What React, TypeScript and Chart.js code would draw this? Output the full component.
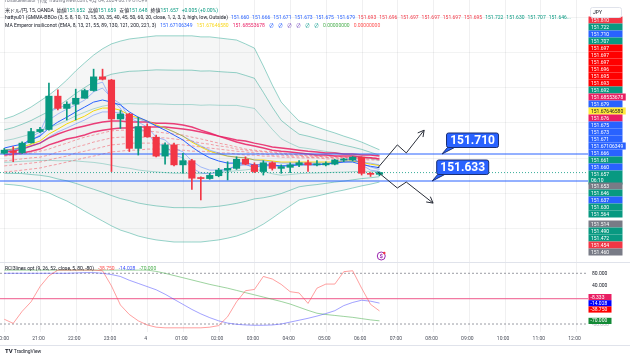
import React, { useEffect, useRef } from "react";
import { Chart, registerables } from "chart.js";

Chart.register(...registerables);

// ---------------- data ----------------
const candleOpen = [151.712,151.719,151.714,151.742,151.774,151.780,151.875,151.840,151.852,151.869,151.891,151.930,151.921,151.810,151.824,151.726,151.788,151.758,151.704,151.736,151.679,151.691,151.642,151.640,151.648,151.664,151.669,151.695,151.679,151.660,151.685,151.669,151.672,151.679,151.685,151.679,151.679,151.681,151.693,151.693,151.701,151.655,151.652];
const candleHigh = [151.726,151.731,151.745,151.783,151.786,151.912,151.893,151.859,151.895,151.895,151.952,151.952,151.923,151.834,151.826,151.815,151.796,151.764,151.742,151.741,151.712,151.695,151.645,151.655,151.669,151.688,151.702,151.702,151.685,151.691,151.688,151.679,151.685,151.691,151.693,151.691,151.688,151.695,151.698,151.703,151.702,151.657,151.659];
const candleLow = [151.710,151.688,151.712,151.741,151.771,151.778,151.836,151.807,151.807,151.869,151.889,151.921,151.660,151.783,151.717,151.707,151.758,151.702,151.681,151.676,151.655,151.609,151.579,151.638,151.645,151.636,151.666,151.679,151.657,151.650,151.664,151.655,151.657,151.674,151.660,151.676,151.676,151.679,151.688,151.690,151.650,151.646,151.648];
const candleClose = [151.721,151.714,151.741,151.774,151.780,151.875,151.840,151.852,151.869,151.891,151.930,151.923,151.810,151.824,151.726,151.788,151.759,151.704,151.736,151.679,151.691,151.641,151.640,151.649,151.664,151.669,151.695,151.681,151.660,151.685,151.669,151.674,151.679,151.685,151.679,151.681,151.683,151.693,151.695,151.701,151.655,151.652,151.657];

// GMMA short (blue)
const emaFast3 = [151.721,151.718,151.733,151.758,151.773,151.830,151.841,151.850,151.861,151.878,151.907,151.915,151.864,151.841,151.784,151.784,151.773,151.736,151.736,151.707,151.699,151.670,151.656,151.653,151.659,151.664,151.679,151.681,151.670,151.679,151.676,151.676,151.679,151.681,151.681,151.681,151.681,151.687,151.693,151.699,151.679,151.664,151.660];
const emaFast5 = [151.721,151.721,151.730,151.750,151.764,151.807,151.824,151.838,151.850,151.864,151.887,151.898,151.870,151.853,151.813,151.801,151.787,151.758,151.750,151.727,151.716,151.690,151.673,151.664,151.664,151.667,151.676,151.679,151.673,151.676,151.676,151.676,151.679,151.681,151.681,151.681,151.681,151.684,151.690,151.696,151.684,151.673,151.666];
const emaMid8 = [151.727,151.733,151.738,151.750,151.761,151.784,151.801,151.815,151.830,151.844,151.858,151.864,151.858,151.850,151.830,151.815,151.804,151.790,151.778,151.764,151.750,151.730,151.713,151.699,151.690,151.684,151.684,151.684,151.679,151.679,151.679,151.676,151.676,151.679,151.679,151.679,151.681,151.684,151.687,151.687,151.680,151.675,151.671];
const emaSlow15 = [151.721,151.724,151.727,151.733,151.741,151.758,151.773,151.784,151.796,151.807,151.821,151.830,151.830,151.827,151.815,151.810,151.801,151.790,151.784,151.773,151.761,151.747,151.733,151.721,151.713,151.704,151.701,151.699,151.693,151.690,151.687,151.684,151.684,151.684,151.684,151.684,151.684,151.684,151.687,151.690,151.687,151.684,151.679];
// MA Emperor
const emaYellow13 = [151.721,151.724,151.730,151.738,151.747,151.767,151.781,151.796,151.807,151.818,151.833,151.841,151.841,151.835,151.821,151.813,151.804,151.793,151.784,151.773,151.761,151.744,151.730,151.718,151.710,151.704,151.701,151.699,151.693,151.693,151.690,151.687,151.687,151.687,151.687,151.687,151.687,151.687,151.690,151.690,151.686,151.681,151.677];
const emaCrimsonA = [151.716,151.718,151.724,151.733,151.741,151.756,151.767,151.776,151.784,151.790,151.796,151.801,151.804,151.804,151.801,151.801,151.801,151.798,151.798,151.796,151.793,151.787,151.778,151.770,151.761,151.753,151.744,151.738,151.733,151.727,151.721,151.718,151.716,151.713,151.710,151.707,151.707,151.704,151.704,151.704,151.701,151.699,151.696];
const emaCrimsonB = [151.707,151.710,151.713,151.718,151.724,151.736,151.744,151.753,151.758,151.764,151.773,151.778,151.781,151.784,151.784,151.787,151.787,151.787,151.787,151.784,151.781,151.778,151.773,151.767,151.761,151.756,151.750,151.747,151.741,151.736,151.730,151.727,151.724,151.721,151.718,151.716,151.713,151.713,151.710,151.710,151.707,151.707,151.704];
// GMMA long (red dashed)
const emaLong1 = [151.704,151.707,151.710,151.713,151.718,151.724,151.733,151.741,151.750,151.758,151.764,151.770,151.776,151.778,151.778,151.776,151.776,151.773,151.770,151.767,151.764,151.758,151.753,151.747,151.741,151.736,151.730,151.724,151.721,151.718,151.716,151.713,151.710,151.707,151.707,151.704,151.704,151.704,151.701,151.701,151.701,151.699,151.699];
const emaLong2 = [151.690,151.693,151.696,151.699,151.701,151.707,151.716,151.721,151.730,151.736,151.744,151.750,151.756,151.758,151.758,151.758,151.758,151.756,151.756,151.753,151.750,151.747,151.741,151.738,151.733,151.730,151.724,151.721,151.718,151.716,151.713,151.710,151.707,151.707,151.704,151.704,151.701,151.701,151.701,151.699,151.699,151.699,151.696];
const emaLong3 = [151.676,151.679,151.681,151.684,151.687,151.693,151.699,151.704,151.713,151.718,151.724,151.730,151.736,151.738,151.741,151.741,151.741,151.741,151.738,151.738,151.736,151.733,151.730,151.727,151.724,151.721,151.718,151.716,151.713,151.710,151.707,151.707,151.704,151.704,151.701,151.701,151.701,151.699,151.699,151.699,151.696,151.696,151.697];
const emaLong4 = [151.659,151.661,151.664,151.667,151.670,151.676,151.681,151.687,151.693,151.699,151.704,151.710,151.716,151.718,151.721,151.721,151.724,151.724,151.724,151.721,151.721,151.718,151.718,151.716,151.713,151.713,151.710,151.707,151.707,151.704,151.704,151.701,151.701,151.699,151.699,151.699,151.696,151.696,151.696,151.693,151.693,151.693,151.693];
// Bands (3 sigma outer lines)
const bandUpper3 = [151.810,151.818,151.830,151.844,151.861,151.878,151.898,151.921,151.947,151.970,151.992,152.010,152.024,152.032,152.038,152.041,152.044,152.047,152.047,152.047,152.047,152.047,152.044,152.044,152.041,152.038,152.035,152.024,152.012,151.961,151.907,151.858,151.830,151.804,151.796,151.787,151.778,151.770,151.761,151.753,151.744,151.733,151.722];
const bandLower3 = [151.624,151.622,151.619,151.613,151.607,151.599,151.587,151.576,151.562,151.547,151.533,151.519,151.505,151.493,151.485,151.476,151.470,151.465,151.462,151.459,151.459,151.459,151.459,151.462,151.465,151.470,151.476,151.485,151.496,151.510,151.527,151.545,151.562,151.579,151.585,151.590,151.596,151.602,151.607,151.613,151.619,151.624,151.630];

const lastClose = 151.657;
const levelLines = [151.710, 151.633];
const levelLabels = ["151.710", "151.633"];
const levelTipBars = [49.0, 47.9];
const upArrowPath = [[41.8, 151.670], [44.0, 151.736], [45.0, 151.713], [47.0, 151.778]];
const downArrowPath = [[41.8, 151.659], [44.0, 151.613], [45.0, 151.630], [48.0, 151.570]];
const priceGridLevels = [151.4, 151.5, 151.6, 151.7, 151.8, 151.9, 152.0, 152.1];

// oscillator (RCI 3 lines)
const rciShort = [-65,-78,-40,-10,38,72,90,90,90,90,90,88,40,-20,-50,-70,-83,-90,-92,-92,-92,-92,-92,-90,-85,-57,-10,25,29,70,62,45,22,18,-15,33,46,46,85,88,33,-18,-38.75];
const rciMid = [80,80,80,80,80,80,80,80,81,82,82,80,76,70,58,48,38,28,14,-2,-18,-34,-48,-60,-70,-77,-81,-83,-84,-84,-83,-80,-74,-68,-62,-55,-47,-38,-22,-12,-5,-8,-14.028];
const rciLong = [90,90,90,90,90,90,90,90,90,90,90,90,90,90,90,90,90,86,80,73,66,59,52,45,39,33,26,19,12,5,-2,-9,-17,-27,-37,-46,-50,-53,-56,-59,-63,-67,-70];
const oscLevels = [80, -80];
const oscZero = 0;
const oscAxisTicks = [80, 40];

const timeTickBars = [0,4,8,12,16,20,24,28,32,36,40,44,48,52,56,60,64];
const timeTickLabels = ["20:00","21:00","22:00","23:00","4","01:00","02:00","03:00","04:00","05:00","06:00","07:00","08:00","09:00","10:00","11:00","12:00"];

const priceTagTexts = ["151.810","151.722","151.710","151.707","151.697","151.697","151.697","151.696","151.695","151.693","151.692","151.68553678","151.679","151.67646580","151.676","151.675","151.673","151.671","151.67106349","151.666","151.661","151.660","151.657","151.653","151.646","151.637","151.630","151.564","151.514","151.490","151.472","151.454","151.460"];
const priceTagColors = ["#f23645","#089981","#2962ff","#089981","#ff0000","#ff0000","#ff0000","#ff0000","#ff0000","#ff0000","#089981","#e91e63","#2962ff","#ffeb3b","#e91e63","#2962ff","#2962ff","#2962ff","#2962ff","#2962ff","#089981","#2962ff","#089981","#787b86","#089981","#2962ff","#089981","#089981","#787b86","#089981","#089981","#f23645","#787b86"];
const countdownText = "06:10";
const oscTagTexts = ["-8.333", "-14.028", "-38.750", "-70.000"];
const oscTagColors = ["#e91e63", "#0000ff", "#ff0000", "#138a36"];

const ohlcLabels = ["始値", "高値", "安値", "終値"];
const ohlcValues = ["151.652", "151.659", "151.648", "151.657"];
const gmmaLegendValues = ["151.660","151.666","151.671","151.673","151.675","151.679","151.693","151.696","151.697","151.697","151.697","151.695","151.722","151.630","151.707","151.646..."];
const gmmaLegendColors = ["#2962ff","#2962ff","#2962ff","#2962ff","#2962ff","#2962ff","#f23645","#f23645","#f23645","#f23645","#f23645","#f23645","#089981","#089981","#089981","#089981"];
const emperorLegendValues = ["151.67106349","151.67646580","151.68553678","∅","∅","∅","∅","∅","∅","0.00000000","0.00000000"];
const emperorLegendColors = ["#2962ff","#f9d71c","#e91e63","#2962ff","#2962ff","#7e57c2","#7e57c2","#26a69a","#26a69a","#4caf50","#ff5252"];
const rciLegendValues = ["-38.750", "-14.028", "-70.000"];
const rciLegendColors = ["#ff5252", "#3f51ff", "#4caf50"];

// ---------------- layout constants ----------------
const X_MIN = -0.478, X_MAX = 65.34;
const Y_MIN = 151.402, Y_MAX = 152.1492;
const OSC_MIN = -105.2, OSC_MAX = 115.6;
const FONT = "Roboto, 'Noto Sans CJK JP', sans-serif";
const UP = "#089981", DOWN = "#f23645";

const barIndex = candleClose.map((_, i) => i);
const xy = (arr: number[]) => arr.map((v, i) => ({ x: barIndex[i], y: v }));
const hline = (v: number) => [{ x: X_MIN, y: v }, { x: X_MAX, y: v }];

function baseOptions(yMin: number, yMax: number, bottom: number): any {
  return {
    responsive: false,
    animation: false,
    devicePixelRatio: 1,
    events: [],
    layout: { padding: { left: 0, right: 42, top: 0, bottom } },
    plugins: { legend: { display: false }, tooltip: { enabled: false } },
    scales: {
      x: { type: "linear", min: X_MIN, max: X_MAX, display: false, offset: false },
      y: { type: "linear", min: yMin, max: yMax, display: false },
    },
    elements: { point: { radius: 0 }, line: { tension: 0 } },
  };
}

function drawVerticalGrid(chart: any, bottom: number) {
  const { ctx, chartArea, scales } = chart;
  ctx.save();
  ctx.strokeStyle = "rgba(42,46,57,0.07)";
  ctx.lineWidth = 1;
  for (const b of timeTickBars) {
    const px = Math.round(scales.x.getPixelForValue(b)) + 0.5;
    ctx.beginPath();
    ctx.moveTo(px, chartArea.top);
    ctx.lineTo(px, bottom);
    ctx.stroke();
  }
  ctx.restore();
}

function drawArrow(ctx: any, chart: any, path: number[][]) {
  const { x, y } = chart.scales;
  const pts = path.map((p) => [x.getPixelForValue(p[0]), y.getPixelForValue(p[1])]);
  ctx.beginPath();
  pts.forEach((p, i) => (i === 0 ? ctx.moveTo(p[0], p[1]) : ctx.lineTo(p[0], p[1])));
  ctx.stroke();
  const [x1, y1] = pts[pts.length - 2];
  const [x2, y2] = pts[pts.length - 1];
  const a = Math.atan2(y2 - y1, x2 - x1);
  const L = 7;
  ctx.beginPath();
  ctx.moveTo(x2 - L * Math.cos(a - 0.5), y2 - L * Math.sin(a - 0.5));
  ctx.lineTo(x2, y2);
  ctx.lineTo(x2 - L * Math.cos(a + 0.5), y2 - L * Math.sin(a + 0.5));
  ctx.stroke();
}

function tagY(i: number) {
  if (i <= 22) return 20 + 7 * i;
  if (i <= 27) return 186 + 7 * (i - 23);
  return 224 + 7 * (i - 28);
}

const mainDecor = {
  id: "mainDecor",
  beforeDatasetsDraw(chart: any) {
    const { ctx, chartArea, scales } = chart;
    drawVerticalGrid(chart, chartArea.bottom);
    ctx.save();
    ctx.strokeStyle = "rgba(42,46,57,0.06)";
    for (const p of priceGridLevels) {
      const py = Math.round(scales.y.getPixelForValue(p)) + 0.5;
      ctx.beginPath();
      ctx.moveTo(chartArea.left, py);
      ctx.lineTo(chartArea.right, py);
      ctx.stroke();
    }
    ctx.restore();
  },
  afterDraw(chart: any) {
    const { ctx, scales } = chart;
    ctx.save();
    // zig-zag arrows
    ctx.strokeStyle = "#2a2e39";
    ctx.lineWidth = 1;
    drawArrow(ctx, chart, upArrowPath);
    drawArrow(ctx, chart, downArrowPath);

    // callouts
    levelLabels.forEach((txt, i) => {
      const tx = scales.x.getPixelForValue(levelTipBars[i]);
      const ty = scales.y.getPixelForValue(levelLines[i]);
      const bx = tx + 4.5, by = ty - 21, bw = 52, bh = 14.5;
      ctx.fillStyle = "#2962ff";
      ctx.strokeStyle = "#1a2f73";
      ctx.lineWidth = 1;
      ctx.beginPath();
      ctx.moveTo(bx + 1, by + bh);
      ctx.lineTo(tx, ty);
      ctx.lineTo(bx + 8, by + bh);
      ctx.closePath();
      ctx.fill();
      ctx.stroke();
      ctx.beginPath();
      ctx.roundRect(bx, by, bw, bh, 2);
      ctx.fill();
      ctx.stroke();
      ctx.fillStyle = "#ffffff";
      ctx.font = `bold 12px ${FONT}`;
      ctx.textAlign = "center";
      ctx.textBaseline = "middle";
      ctx.fillText(txt, bx + bw / 2, by + bh / 2 + 0.5);
    });

    // event icon
    const ix = scales.x.getPixelForValue(42.2);
    ctx.strokeStyle = "#9c27b0";
    ctx.fillStyle = "#ffffff";
    ctx.lineWidth = 1;
    ctx.beginPath();
    ctx.arc(ix, 256, 4, 0, Math.PI * 2);
    ctx.fill();
    ctx.stroke();
    ctx.fillStyle = "#9c27b0";
    ctx.font = `bold 6px ${FONT}`;
    ctx.textAlign = "center";
    ctx.textBaseline = "middle";
    ctx.fillText("$", ix, 256.5);
    ctx.fillStyle = "#f23645";
    ctx.beginPath();
    ctx.arc(ix + 3, 253, 1.2, 0, Math.PI * 2);
    ctx.fill();

    // price axis tags
    ctx.font = `5px ${FONT}`;
    ctx.textAlign = "left";
    priceTagTexts.forEach((t, i) => {
      const cy = tagY(i);
      const w = Math.max(34, ctx.measureText(t).width + 5);
      const h = i === 22 ? 14 : 7;
      ctx.fillStyle = priceTagColors[i];
      ctx.fillRect(588.5, cy - 3.5, w, h);
      ctx.fillStyle = priceTagColors[i] === "#ffeb3b" ? "#131722" : "#ffffff";
      ctx.fillText(t, 591, cy + 0.3);
      if (i === 22) ctx.fillText(countdownText, 591, cy + 6.8);
    });
    // JPY box
    ctx.fillStyle = "#ffffff";
    ctx.strokeStyle = "#e0e3eb";
    ctx.beginPath();
    ctx.roundRect(590.5, 7.5, 31, 10, 2);
    ctx.fill();
    ctx.stroke();
    ctx.fillStyle = "#131722";
    ctx.fillText("JPY", 593, 12.8);
    ctx.restore();
  },
};

const oscDecor = {
  id: "oscDecor",
  beforeDatasetsDraw(chart: any) {
    drawVerticalGrid(chart, chart.chartArea.bottom);
  },
  afterDraw(chart: any) {
    const { ctx, scales } = chart;
    ctx.save();
    // separators
    ctx.strokeStyle = "#e0e3eb";
    ctx.lineWidth = 1;
    ctx.beginPath();
    ctx.moveTo(0, 0.5);
    ctx.lineTo(630, 0.5);
    ctx.stroke();
    ctx.beginPath();
    ctx.moveTo(0, 83.5);
    ctx.lineTo(630, 83.5);
    ctx.stroke();
    // time labels
    ctx.fillStyle = "#4a4e5a";
    ctx.font = `5px ${FONT}`;
    ctx.textAlign = "center";
    ctx.textBaseline = "middle";
    timeTickBars.forEach((b, i) => {
      ctx.fillText(timeTickLabels[i], scales.x.getPixelForValue(b) - 1.5, 77);
    });
    // osc axis ticks
    ctx.textAlign = "left";
    ctx.fillStyle = "#131722";
    oscAxisTicks.forEach((v) => {
      ctx.fillText(v.toFixed(3), 592, scales.y.getPixelForValue(v));
    });
    ctx.fillStyle = "#b2b5be";
    ctx.fillText("-80.000", 592, scales.y.getPixelForValue(-80) + 1);
    // osc tags
    const tagCenters = [35, 41.2, 47.4, 58.8];
    oscTagTexts.forEach((t, i) => {
      const cy = tagCenters[i];
      ctx.fillStyle = oscTagColors[i];
      ctx.fillRect(588.5, cy - 3, 23, 6.2);
      ctx.fillStyle = "#ffffff";
      ctx.fillText(t, 590.5, cy + 0.3);
    });
    ctx.restore();
  },
};

function mainConfig(): any {
  const ds: any[] = [];
  const push = (d: any) => { ds.push(d); return ds.length - 1; };
  const c = bandUpper3.map((u, i) => (u + bandLower3[i]) / 2);
  const s = bandUpper3.map((u, i) => (u - bandLower3[i]) / 6);
  const band = (k: number) => c.map((v, i) => v + k * s[i]);
  const bandLine = "rgba(8,153,129,0.42)";

  const lo3 = push({ type: "line", data: xy(bandLower3), borderColor: bandLine, borderWidth: 1, pointRadius: 0, order: 30 });
  push({ type: "line", data: xy(bandUpper3), borderColor: bandLine, borderWidth: 1, pointRadius: 0, fill: lo3, backgroundColor: "rgba(120,123,134,0.07)", order: 30 });
  const lo2 = push({ type: "line", data: xy(band(-2)), borderColor: bandLine, borderWidth: 1, pointRadius: 0, order: 29 });
  push({ type: "line", data: xy(band(2)), borderColor: bandLine, borderWidth: 1, pointRadius: 0, fill: lo2, backgroundColor: "rgba(120,123,134,0.035)", order: 29 });
  push({ type: "line", data: xy(band(-1)), borderColor: "rgba(8,153,129,0.3)", borderWidth: 1, pointRadius: 0, order: 28 });
  push({ type: "line", data: xy(band(1)), borderColor: "rgba(8,153,129,0.3)", borderWidth: 1, pointRadius: 0, order: 28 });

  const dashed = { type: "line", borderColor: "rgba(242,54,69,0.45)", borderWidth: 1, borderDash: [3, 2], pointRadius: 0, order: 20 };
  [emaLong4, emaLong3, emaLong2, emaLong1].forEach((a) => push({ ...dashed, data: xy(a) }));
  push({ type: "line", data: xy(emaCrimsonB), borderColor: "rgba(233,30,99,0.85)", borderWidth: 1.5, pointRadius: 0, order: 15 });
  push({ type: "line", data: xy(emaCrimsonA), borderColor: "rgba(233,30,99,0.85)", borderWidth: 1.5, pointRadius: 0, order: 15 });
  push({ type: "line", data: xy(emaYellow13), borderColor: "#f5d90a", borderWidth: 1, pointRadius: 0, order: 14 });
  push({ type: "line", data: xy(emaSlow15), borderColor: "rgba(41,98,255,0.4)", borderWidth: 1, pointRadius: 0, order: 13 });
  push({ type: "line", data: xy(emaFast5), borderColor: "rgba(41,98,255,0.4)", borderWidth: 1, pointRadius: 0, order: 13 });
  push({ type: "line", data: xy(emaFast3), borderColor: "rgba(41,98,255,0.4)", borderWidth: 1, pointRadius: 0, order: 13 });
  push({ type: "line", data: xy(emaMid8), borderColor: "#2962ff", borderWidth: 1, pointRadius: 0, order: 12 });

  levelLines.forEach((v) => push({ type: "line", data: hline(v), borderColor: "#2962ff", borderWidth: 1, pointRadius: 0, order: 5 }));
  push({ type: "line", data: hline(lastClose), borderColor: "rgba(8,153,129,0.8)", borderWidth: 1, borderDash: [1, 2], pointRadius: 0, order: 6 });

  const colors = candleClose.map((cl, i) => (cl >= candleOpen[i] ? UP : DOWN));
  push({ type: "bar", data: barIndex.map((i) => ({ x: i, y: [candleLow[i], candleHigh[i]] })), backgroundColor: colors, barThickness: 1, grouped: false, minBarLength: 1, order: 2 });
  push({ type: "bar", data: barIndex.map((i) => ({ x: i, y: [candleOpen[i], candleClose[i]] })), backgroundColor: colors, barThickness: 6.5, grouped: false, minBarLength: 1, order: 1 });

  return { type: "line", data: { datasets: ds }, options: baseOptions(Y_MIN, Y_MAX, 0), plugins: [mainDecor] };
}

function oscConfig(): any {
  const ds: any[] = [];
  oscLevels.forEach((v) => ds.push({ type: "line", data: hline(v), borderColor: "rgba(120,123,134,0.75)", borderWidth: 1, borderDash: [2, 2], pointRadius: 0, order: 10 }));
  ds.push({ type: "line", data: hline(oscZero), borderColor: "rgba(240,98,146,0.85)", borderWidth: 1.3, pointRadius: 0, order: 9 });
  ds.push({ type: "line", data: xy(rciLong), borderColor: "rgba(76,175,80,0.55)", borderWidth: 1, pointRadius: 0, order: 3 });
  ds.push({ type: "line", data: xy(rciMid), borderColor: "rgba(70,70,255,0.5)", borderWidth: 1, pointRadius: 0, order: 2 });
  ds.push({ type: "line", data: xy(rciShort), borderColor: "rgba(255,82,82,0.55)", borderWidth: 1, pointRadius: 0, order: 1 });
  return { type: "line", data: { datasets: ds }, options: baseOptions(OSC_MIN, OSC_MAX, 22), plugins: [oscDecor] };
}

const line = (top: number): React.CSSProperties => ({
  position: "absolute", left: 5, top, fontSize: 5, lineHeight: "6px", whiteSpace: "nowrap", color: "#131722", fontFamily: FONT,
});

export default function App() {
  const mainRef = useRef<HTMLCanvasElement>(null);
  const oscRef = useRef<HTMLCanvasElement>(null);
  useEffect(() => {
    const main = new Chart(mainRef.current as HTMLCanvasElement, mainConfig());
    const osc = new Chart(oscRef.current as HTMLCanvasElement, oscConfig());
    return () => { main.destroy(); osc.destroy(); };
  }, []);
  return (
    <div style={{ position: "fixed", left: 0, top: 0, width: 630, height: 354, background: "#fff", overflow: "hidden", fontFamily: FONT }}>
      <canvas ref={mainRef} width={630} height={262} style={{ position: "absolute", left: 0, top: 0 }} />
      <canvas ref={oscRef} width={630} height={92} style={{ position: "absolute", left: 0, top: 262 }} />
      <div style={{ ...line(-3.5), color: "#787b86" }}>ronaldelerator 作成 TradingView.com, 4月 04, 2024 06:19 UTC+9</div>
      <div style={line(6.5)}>
        米ドル/円, 15, OANDA
        {ohlcLabels.map((l, i) => (
          <span key={l} style={{ marginLeft: 3 }}>{l}<span style={{ color: UP }}>{ohlcValues[i]}</span></span>
        ))}
        <span style={{ color: UP, marginLeft: 3 }}>+0.005 (+0.00%)</span>
      </div>
      <div style={line(14)}>
        hattyu01 (GMMA-BBOo (3, 5, 8, 10, 12, 15, 30, 35, 40, 45, 50, 60, 20, close, 1, 2, 3, 2, high, low, Outside)
        {gmmaLegendValues.map((v, i) => (
          <span key={i} style={{ color: gmmaLegendColors[i], marginLeft: 3 }}>{v}</span>
        ))}
      </div>
      <div style={line(22)}>
        MA Emperor insiliconot (EMA, 8, 13, 21, 55, 89, 130, 121, 200, 221, 3)
        {emperorLegendValues.map((v, i) => (
          <span key={i} style={{ color: emperorLegendColors[i], marginLeft: 4 }}>{v}</span>
        ))}
      </div>
      <div style={line(265)}>
        RCI3lines opt (9, 26, 52, close, 5, 80, -80)
        {rciLegendValues.map((v, i) => (
          <span key={i} style={{ color: rciLegendColors[i], marginLeft: 4 }}>{v}</span>
        ))}
      </div>
      <div style={{ ...line(348), fontSize: 5 }}>
        <b style={{ fontSize: 6 }}>TV</b> TradingView
      </div>
    </div>
  );
}
